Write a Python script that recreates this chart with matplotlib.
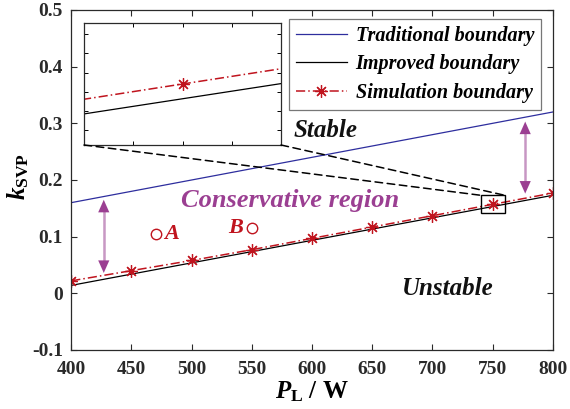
import matplotlib
matplotlib.use("Agg")
import matplotlib.pyplot as plt
from matplotlib.patches import Rectangle, ConnectionPatch

plt.rcParams['font.family'] = ['Liberation Serif', 'DejaVu Serif']
plt.rcParams['mathtext.fontset'] = 'custom'
plt.rcParams['mathtext.rm'] = 'Liberation Serif:bold'
plt.rcParams['mathtext.it'] = 'Liberation Serif:italic:bold'
plt.rcParams['mathtext.bf'] = 'Liberation Serif:bold'

# Data
trad_x = [400, 800]
trad_y = [0.160, 0.320]
impr_x = [400, 800]
impr_y = [0.014, 0.173]
sim_x = [400, 450, 500, 550, 600, 650, 700, 750, 800]
sim_y = [0.022, 0.040, 0.058, 0.077, 0.097, 0.117, 0.137, 0.157, 0.177]
pts_x = [470, 550]
pts_y = [0.105, 0.115]
pts_lab = ['A', 'B']
xticks = [400, 450, 500, 550, 600, 650, 700, 750, 800]
yticks = [-0.1, 0, 0.1, 0.2, 0.3, 0.4, 0.5]
ytick_labels = ['-0.1', '0', '0.1', '0.2', '0.3', '0.4', '0.5']
zoom_x = [740, 760]
zoom_y = [0.141, 0.173]

BLUE = '#2e2e9e'
RED = '#c0141e'
PURPLE = '#9b3f92'
PURPLE_L = '#c898c4'
TICKC = '#2a2a2a'
STAR = (8, 2, 0)

fig = plt.figure(figsize=(5.70, 4.09), dpi=100)
ax = fig.add_axes([0.125, 0.1443, 0.845, 0.8313])

ax.plot(trad_x, trad_y, color=BLUE, lw=0.9, label='Traditional boundary')
ax.plot(impr_x, impr_y, color='black', lw=0.9, label='Improved boundary')
ax.plot(sim_x, sim_y, color=RED, lw=1.1, ls=(0, (6, 2, 1, 2)), marker=STAR,
        markersize=9, markeredgewidth=0.9, label='Simulation boundary')

ax.set_xlim(400, 800)
ax.set_ylim(-0.1, 0.5)
ax.set_xticks(xticks)
ax.set_yticks(yticks)
ax.set_yticklabels(ytick_labels)
ax.tick_params(direction='in', top=True, right=True, length=4, width=0.8,
               labelsize=14, colors=TICKC, pad=6)
ax.tick_params(axis='x', pad=8)
for lab in ax.get_xticklabels() + ax.get_yticklabels():
    lab.set_fontweight('bold')
for sp in ax.spines.values():
    sp.set_color(TICKC)
    sp.set_linewidth(0.9)

ax.set_xlabel(r'$P_{\mathrm{L}}$ / W', fontsize=18, fontweight='bold', labelpad=1)
ax.set_ylabel(r'$k_{\mathrm{SVP}}$', fontsize=18, fontweight='bold', labelpad=2)
ax.yaxis.set_label_coords(-0.083, 0.51)

leg = ax.legend(loc='upper right', bbox_to_anchor=(0.988, 0.992),
                prop={'style': 'italic', 'weight': 'bold', 'size': 14.5},
                frameon=True, fancybox=False, edgecolor='#555555',
                handlelength=2.5, borderpad=0.35, labelspacing=0.42, handletextpad=0.45,
                borderaxespad=0.3)
leg.get_frame().set_linewidth(0.9)

# Points A, B
ax.plot(pts_x, pts_y, ls='none', marker='o', markersize=7.5, mfc='none', mec=RED, mew=1.0)
ax.text(pts_x[0] + 7, pts_y[0], pts_lab[0], color=RED, fontsize=16, style='italic',
        fontweight='bold', va='center', ha='left')
ax.text(pts_x[1] - 7, pts_y[1], pts_lab[1], color=RED, fontsize=16, style='italic',
        fontweight='bold', va='center', ha='right')

ax.text(582, 0.164, 'Conservative region', color=PURPLE, fontsize=19, style='italic',
        fontweight='bold', ha='center', va='center')
ax.text(611, 0.287, 'Stable', color='#111111', fontsize=18, style='italic',
        fontweight='bold', ha='center', va='center')
ax.text(713, 0.009, 'Unstable', color='#111111', fontsize=18, style='italic',
        fontweight='bold', ha='center', va='center')

# Arrows
for xa, y1, y2 in [(427, 0.165, 0.036), (777, 0.303, 0.176)]:
    ax.plot([xa, xa], [y1 - 0.01, y2 + 0.01], color=PURPLE_L, lw=1.8, solid_capstyle='butt')
    ax.annotate('', xy=(xa, y2), xytext=(xa, y1),
                arrowprops=dict(arrowstyle='<|-|>,head_length=0.9,head_width=0.4',
                                mutation_scale=10, color=PURPLE, lw=0.01,
                                shrinkA=0, shrinkB=0))

# Zoom box
ax.add_patch(Rectangle((zoom_x[0], zoom_y[0]), zoom_x[1] - zoom_x[0], zoom_y[1] - zoom_y[0],
                       fill=False, ec='black', lw=1.0, zorder=5))

# Inset
axin = fig.add_axes([0.1474, 0.6455, 0.3456, 0.2983])
axin.plot(impr_x, impr_y, color='black', lw=0.9)
axin.plot(sim_x, sim_y, color=RED, lw=1.1, ls=(0, (6, 2, 1, 2)), marker=STAR,
          markersize=9, markeredgewidth=0.9)
axin.set_xlim(zoom_x)
axin.set_ylim(zoom_y)
axin.set_xticks([745, 750, 755])
axin.set_yticks([0.145, 0.150, 0.155, 0.160, 0.165, 0.170])
axin.tick_params(direction='in', top=True, right=True, length=3, width=0.7,
                 labelbottom=False, labelleft=False)
for sp in axin.spines.values():
    sp.set_color(TICKC)
    sp.set_linewidth(0.9)

for (xi, yi), (xd, yd) in [((0, 0), (zoom_x[0], zoom_y[1])), ((1, 0), (zoom_x[1], zoom_y[1]))]:
    cp = ConnectionPatch(xyA=(xi, yi), coordsA=axin.transAxes, xyB=(xd, yd), coordsB=ax.transData,
                         ls=(0, (5, 3)), color='black', lw=1.1)
    fig.add_artist(cp)

fig.savefig('out.png', dpi=100)
